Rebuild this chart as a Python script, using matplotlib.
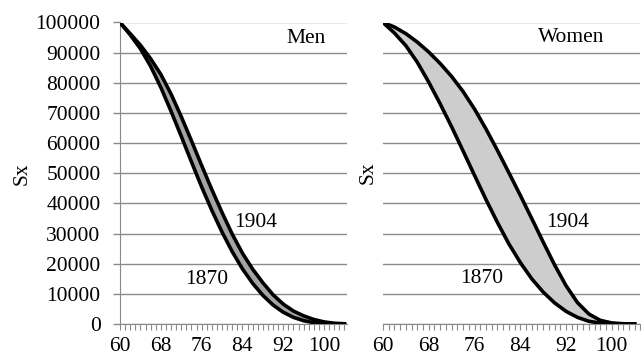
import matplotlib
matplotlib.use("Agg")
import matplotlib.pyplot as plt
from matplotlib.ticker import MultipleLocator

# ages, every 2 years
ages = list(range(60, 105, 2))

# survivors Sx
men_1870 = [100000, 95900, 91300, 85500, 78500, 70600, 62300, 53800, 45500, 37700,
            30500, 24000, 18300, 13500, 9500, 6300, 3900, 2200, 1100, 450, 150, 40, 10]
men_1904 = [100000, 96300, 92500, 88000, 82800, 76300, 68800, 60800, 52600, 44600,
            37000, 29800, 23500, 18200, 13700, 9700, 6600, 4300, 2700, 1500, 700, 250, 80]
women_1870 = [100000, 96500, 92300, 86800, 80200, 73000, 65400, 57400, 49300, 41300,
              33700, 26600, 20400, 15000, 10600, 7000, 4200, 2200, 900, 300, 80, 20, 0]
women_1904 = [100000, 98500, 96300, 93500, 90200, 86400, 82100, 77100, 71300, 64700,
              57600, 50200, 42700, 35000, 27200, 19600, 12700, 7100, 3300, 1200, 350, 80, 10]

x_labels = [60, 68, 76, 84, 92, 100]
y_ticks = list(range(0, 100001, 10000))

plt.rcParams['font.family'] = ['Liberation Serif', 'DejaVu Serif']
plt.rcParams['font.size'] = 15.5

W, H = 641, 360
fig = plt.figure(figsize=(W / 100, H / 100), dpi=100)
ax1 = fig.add_axes([120 / W, 36 / H, 227 / W, 301.5 / H])
ax2 = fig.add_axes([383 / W, 36 / H, 257.4 / W, 301.5 / H])

grid_col = "#8a8a8a"


def style(ax, xmax, show_y):
    ax.set_xlim(60, xmax)
    ax.set_ylim(0, 100000)
    ax.set_yticks(y_ticks)
    ax.set_xticks(x_labels)
    ax.xaxis.set_minor_locator(MultipleLocator(1))
    ax.grid(axis="y", color=grid_col, lw=1.0)
    ax.set_axisbelow(True)
    for s in ["top", "right"]:
        ax.spines[s].set_visible(False)
    ax.spines["bottom"].set_color(grid_col)
    ax.spines["left"].set_color(grid_col)
    ax.spines["left"].set_visible(show_y)
    ax.tick_params(axis="x", which="both", direction="out", length=4.5,
                   color=grid_col, width=0.8, pad=5)
    if show_y:
        ax.tick_params(axis="y", direction="out", length=5, color=grid_col,
                       width=1.0, pad=9)
    else:
        ax.tick_params(axis="y", length=0, labelleft=False)


def draw(ax, lo, hi, band):
    ax.fill_between(ages, lo, hi, color=band, lw=0, zorder=2)
    ax.plot(ages, lo, color="black", lw=2.6, solid_joinstyle="round", zorder=3)
    ax.plot(ages, hi, color="black", lw=2.6, solid_joinstyle="round", zorder=3)


draw(ax1, men_1870, men_1904, "#a4a4a4")
draw(ax2, women_1870, women_1904, "#cdcdcd")
style(ax1, 104.5, True)
style(ax2, 105, False)

ax1.text(96.5, 94700, "Men", ha="center", va="center")
ax1.text(86.5, 33500, "1904", ha="center", va="center")
ax1.text(77.1, 14600, "1870", ha="center", va="center")
ax2.text(92.9, 95000, "Women", ha="center", va="center")
ax2.text(92.3, 33500, "1904", ha="center", va="center")
ax2.text(77.3, 15000, "1870", ha="center", va="center")

fig.text(22 / W, 1 - 174 / H, "Sx", rotation=90, ha="center", va="center")
fig.text(368 / W, 1 - 173 / H, "Sx", rotation=90, ha="center", va="center")

fig.savefig("out.png", dpi=100)
